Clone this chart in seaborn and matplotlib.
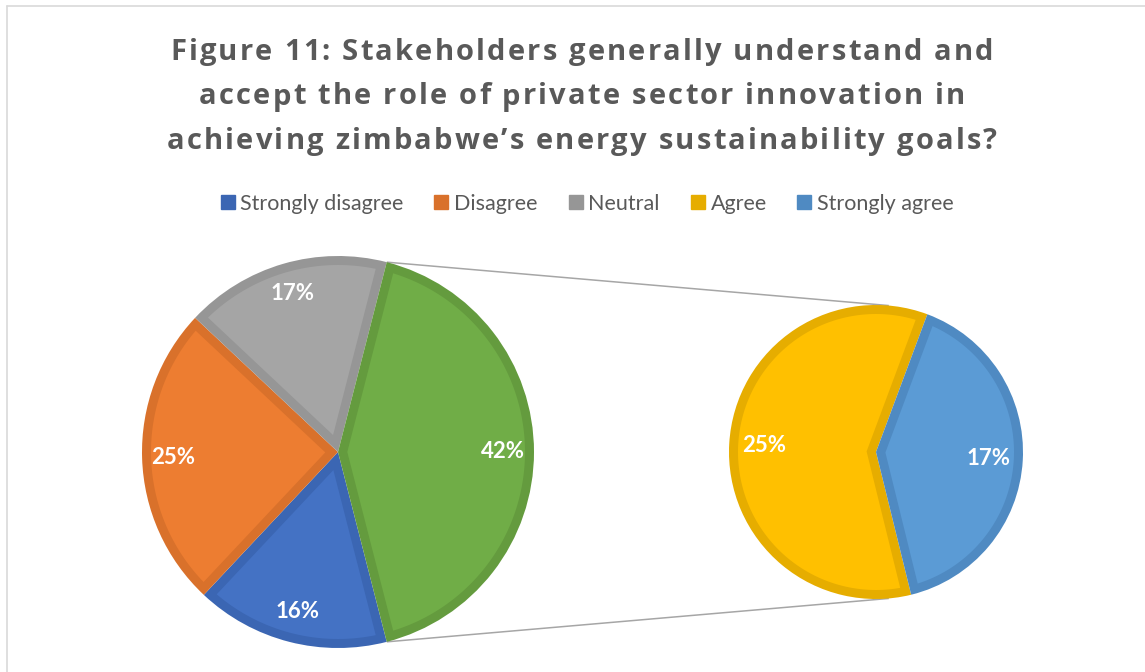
import numpy as np
import matplotlib
matplotlib.use("Agg")
import matplotlib.pyplot as plt
from matplotlib.lines import Line2D
from matplotlib.font_manager import FontProperties, findfont
from matplotlib.ft2font import FT2Font
import seaborn as sns

# ---- data -------------------------------------------------------------
title_lines = [
    "Figure 11: Stakeholders generally understand and",
    "accept the role of private sector innovation in",
    "achieving zimbabwe\u2019s energy sustainability goals?",
]
categories = ["Strongly disagree", "Disagree", "Neutral", "Agree", "Strongly agree"]
shares = [16, 25, 17, 25, 17]          # percent of respondents
fill_colors = ["#4472C4", "#ED7D31", "#A5A5A5", "#FFC000", "#5B9BD5"]
edge_colors = ["#3B66B3", "#D9712B", "#969696", "#E6AD00", "#4F8AC2"]
other_fill = "#70AD47"
other_edge = "#649B3E"

# first three categories stay in the main pie, the rest is split out
n_main = 3
main_vals = shares[:n_main] + [sum(shares[n_main:])]
sub_vals = shares[n_main:]

# ---- figure -------------------------------------------------------------
W, H = 1145, 672
sns.set_theme(style="white")
plt.rcParams["font.family"] = ["Lato", "DejaVu Sans"]

fig = plt.figure(figsize=(W / 100, H / 100), dpi=100)
ax = fig.add_axes([0, 0, 1, 1])

main_c, main_r = (338, 220), 196
sub_c, sub_r = (876, 220), 147
border = 9  # width of the darker inner rim, in pixels


def inner_fill(w, centre, r, d, color):
    """Fill the wedge interior, leaving a rim of width d in the wedge colour."""
    t1, t2 = w.theta1, w.theta2
    half = np.deg2rad((t2 - t1) / 2)
    bis = np.deg2rad((t1 + t2) / 2)
    tip = d / np.sin(half)
    px, py = centre[0] + tip * np.cos(bis), centre[1] + tip * np.sin(bis)
    delta = np.degrees(np.arcsin(d / (r - d)))
    ang = np.deg2rad(np.linspace(t1 + delta, t2 - delta, 300))
    xs = np.concatenate([[px], centre[0] + (r - d) * np.cos(ang)])
    ys = np.concatenate([[py], centre[1] + (r - d) * np.sin(ang)])
    ax.fill(xs, ys, color=color, lw=0, zorder=w.get_zorder() + 0.1)


# main pie: the aggregated slice is centred on the right-hand side
start_main = 360 - main_vals[-1] / sum(main_vals) * 360 / 2
main_w, _ = ax.pie(main_vals, colors=edge_colors[:n_main] + [other_edge],
                   startangle=start_main, counterclock=False,
                   center=main_c, radius=main_r, wedgeprops=dict(lw=0))
for w, fc in zip(main_w, fill_colors[:n_main] + [other_fill]):
    inner_fill(w, main_c, main_r, border, fc)

# secondary pie: "Agree" on the left, "Strongly agree" on the right
agree_span = sub_vals[0] / sum(sub_vals) * 360
start_sub = 180 - agree_span / 2 - 3.3
sub_w, _ = ax.pie(sub_vals, colors=edge_colors[n_main:], startangle=start_sub,
                  counterclock=True, center=sub_c, radius=sub_r,
                  wedgeprops=dict(lw=0))
for w, fc in zip(sub_w, fill_colors[n_main:]):
    inner_fill(w, sub_c, sub_r, border, fc)


def label_wedges(wedges, values, centre, radius, frac):
    for w, v in zip(wedges, values):
        th = np.deg2rad((w.theta1 + w.theta2) / 2)
        ax.text(centre[0] + frac * radius * np.cos(th),
                centre[1] + frac * radius * np.sin(th),
                f"{v}%", color="white", fontsize=16, fontweight="bold",
                ha="center", va="center", zorder=5)


label_wedges(main_w, main_vals, main_c, main_r, 0.84)
label_wedges(sub_w, sub_vals, sub_c, sub_r, 0.765)

# connector lines from the split slice to the secondary pie
other = main_w[-1]
for a_main, a_sub in ((other.theta2, 85), (other.theta1, -85)):
    x0 = main_c[0] + main_r * np.cos(np.deg2rad(a_main))
    y0 = main_c[1] + main_r * np.sin(np.deg2rad(a_main))
    x1 = sub_c[0] + sub_r * np.cos(np.deg2rad(a_sub))
    y1 = sub_c[1] + sub_r * np.sin(np.deg2rad(a_sub))
    ax.plot([x0, x1], [y0, y1], color="#A6A6A6", lw=1.1, zorder=0,
            solid_capstyle="butt")

ax.set_xlim(0, W)
ax.set_ylim(0, H)
ax.set_aspect("equal")
ax.axis("off")

# ---- title (bold, with extra character spacing) -------------------------
title_size = 21
title_fp = FontProperties(family=["Open Sans", "DejaVu Sans"], weight="bold",
                          size=title_size)
ft = FT2Font(findfont(title_fp))
ft.set_size(title_size, 100)
tracking = 2.2  # extra pixels between characters
renderer = fig.canvas.get_renderer()


def advance(ch):
    return ft.load_char(ord(ch)).linearHoriAdvance / 65536


for line, base in zip(title_lines, (59.5, 104.5, 149)):
    advs = np.array([advance(c) for c in line])
    plain_w, _, _ = renderer.get_text_width_height_descent(line, title_fp, ismath=False)
    advs *= plain_w / advs.sum()
    total = advs.sum() + tracking * (len(line) - 1)
    x = 582 - total / 2
    for ch, a in zip(line, advs):
        if ch != " ":
            fig.text((x + a / 2) / W, 1 - base / H, ch, ha="center",
                     va="baseline", fontproperties=title_fp, color="#595959")
        x += a + tracking

# ---- legend -------------------------------------------------------------
handles = [Line2D([], [], marker="s", linestyle="none", markersize=9.5,
                  markerfacecolor=c, markeredgecolor=c) for c in edge_colors]
fig.legend(handles, categories, loc="center", ncol=5,
           bbox_to_anchor=(587 / W, 1 - 204 / H), frameon=False,
           fontsize=15.5, labelcolor="#595959", handlelength=0.7,
           handletextpad=0.25, columnspacing=1.4)

# ---- chart area border ----------------------------------------------------
fig.add_artist(Line2D([6.5 / W, 6.5 / W], [0, 1 - 5.5 / H],
                      transform=fig.transFigure, color="#D9D9D9", lw=1.2))
fig.add_artist(Line2D([6.5 / W, 1], [1 - 5.5 / H, 1 - 5.5 / H],
                      transform=fig.transFigure, color="#D9D9D9", lw=1.2))

fig.savefig("out.png", dpi=100, facecolor="white")
